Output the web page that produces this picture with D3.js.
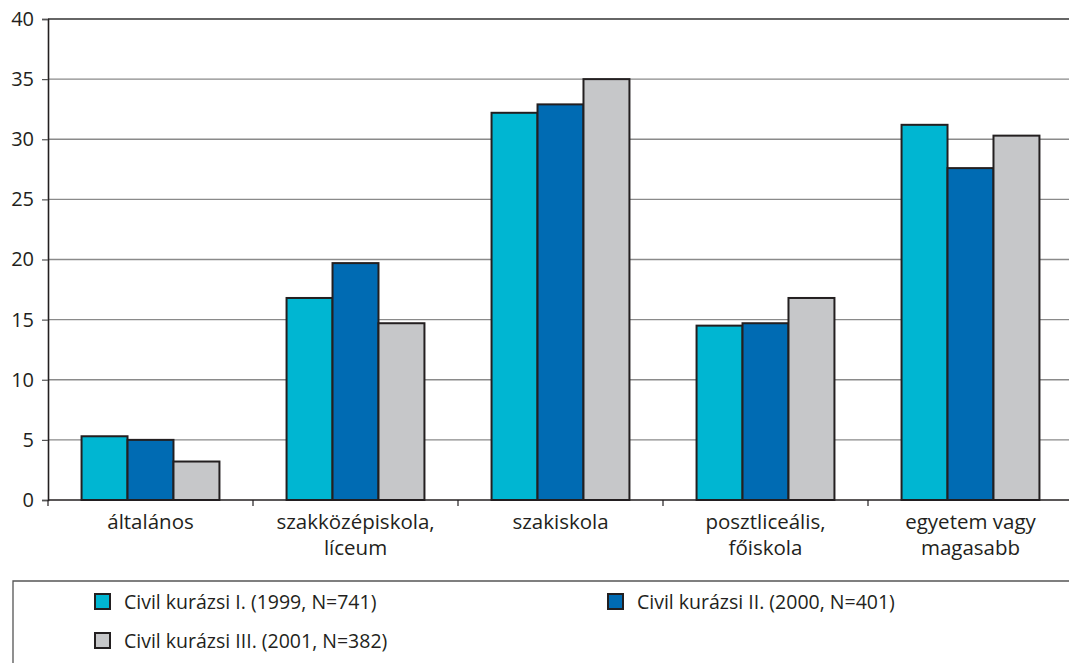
<!DOCTYPE html>
<html><head><meta charset="utf-8">
<script src="https://cdn.jsdelivr.net/npm/d3@7"></script>
<style>
body{margin:0;background:#fff;}
svg text{font-family:"Open Sans","Noto Sans",sans-serif;fill:#231f20;}
</style></head>
<body><svg id="c" width="1069" height="663"></svg>
<script>
const categories = [["általános"],["szakközépiskola,","líceum"],["szakiskola"],["posztliceális,","főiskola"],["egyetem vagy","magasabb"]];
const seriesNames = ["Civil kurázsi I. (1999, N=741)","Civil kurázsi II. (2000, N=401)","Civil kurázsi III. (2001, N=382)"];
const s1999 = [5.3, 16.8, 32.2, 14.5, 31.2];
const s2000 = [5.0, 19.7, 32.9, 14.7, 27.6];
const s2001 = [3.2, 14.7, 35.0, 16.8, 30.3];
const yTicks = [0,5,10,15,20,25,30,35,40];
const colors = ["#00b6d2","#006bb3","#c6c7c9"];

(function(){
const series = [s1999, s2000, s2001];
const svg = d3.select("#c");
const pL = 48, pR = 1073, pT = 19, pB = 500;
const y = d3.scaleLinear().domain([0,40]).range([pB, pT]);
const x0 = d3.scaleBand().domain(d3.range(categories.length)).range([pL, pR]).padding(0);
const x1 = d3.scaleBand().domain(d3.range(series.length)).range([0, x0.bandwidth()]).paddingInner(0).paddingOuter(0.73);

// gridlines
svg.append("g").selectAll("line").data(yTicks.filter(d=>d>0)).join("line")
  .attr("x1", pL).attr("x2", 1069).attr("y1", d=>y(d)).attr("y2", d=>y(d))
  .attr("stroke", d=> d===40 ? "#333" : "#8a8a8a").attr("stroke-width", d=> d===40?1.6:1.3);

// y axis
const yAxis = d3.axisLeft(y).tickValues(yTicks).tickSize(6).tickPadding(8);
const gy = svg.append("g").attr("transform", `translate(${pL},0)`).call(yAxis);
gy.select(".domain").attr("stroke","#231f20").attr("stroke-width",1.6);
gy.selectAll(".tick line").attr("stroke","#555").attr("stroke-width",1.2);
gy.selectAll(".tick text").style("font-size","20px").attr("fill","#231f20");

// bars
const groups = svg.append("g").selectAll("g").data(categories).join("g")
  .attr("transform", (d,i)=>`translate(${x0(i)},0)`);
groups.selectAll("rect").data((d,i)=>series.map((s,k)=>({k, v:s[i]}))).join("rect")
  .attr("x", d=>x1(d.k)).attr("width", x1.bandwidth())
  .attr("y", d=>y(d.v)).attr("height", d=>y(0)-y(d.v))
  .attr("fill", d=>colors[d.k]).attr("stroke","#231f20").attr("stroke-width",2);

// x axis
svg.append("line").attr("x1", pL).attr("x2", 1069).attr("y1", pB).attr("y2", pB)
  .attr("stroke","#231f20").attr("stroke-width",1.6);
svg.append("g").selectAll("line").data(d3.range(categories.length)).join("line")
  .attr("x1", i=>x0(i)).attr("x2", i=>x0(i)).attr("y1", pB).attr("y2", pB+6)
  .attr("stroke","#231f20").attr("stroke-width",1.2);
const lab = svg.append("g").selectAll("text").data(categories).join("text")
  .attr("text-anchor","middle").style("font-size","20.5px")
  .attr("x",(d,i)=>x0(i)+x0.bandwidth()/2).attr("y", 529);
lab.selectAll("tspan").data(d=>d).join("tspan")
  .attr("x", function(){return d3.select(this.parentNode).attr("x");})
  .attr("dy",(d,j)=> j===0?0:26).text(d=>d);

// legend
svg.append("path").attr("d","M13,663 V581 H1069").attr("fill","none").attr("stroke","#555").attr("stroke-width",1.3);
const legPos = [[95,602],[608,602],[95,641]];
const lg = svg.append("g").selectAll("g").data(seriesNames).join("g")
  .attr("transform",(d,i)=>`translate(${legPos[i][0]},${legPos[i][1]})`);
lg.append("rect").attr("x",0).attr("y",-8).attr("width",15).attr("height",15)
  .attr("fill",(d,i)=>colors[i]).attr("stroke","#231f20").attr("stroke-width",2);
lg.append("text").attr("x",29).attr("y",7).style("font-size","19.5px").text(d=>d);
})();
</script></body></html>
